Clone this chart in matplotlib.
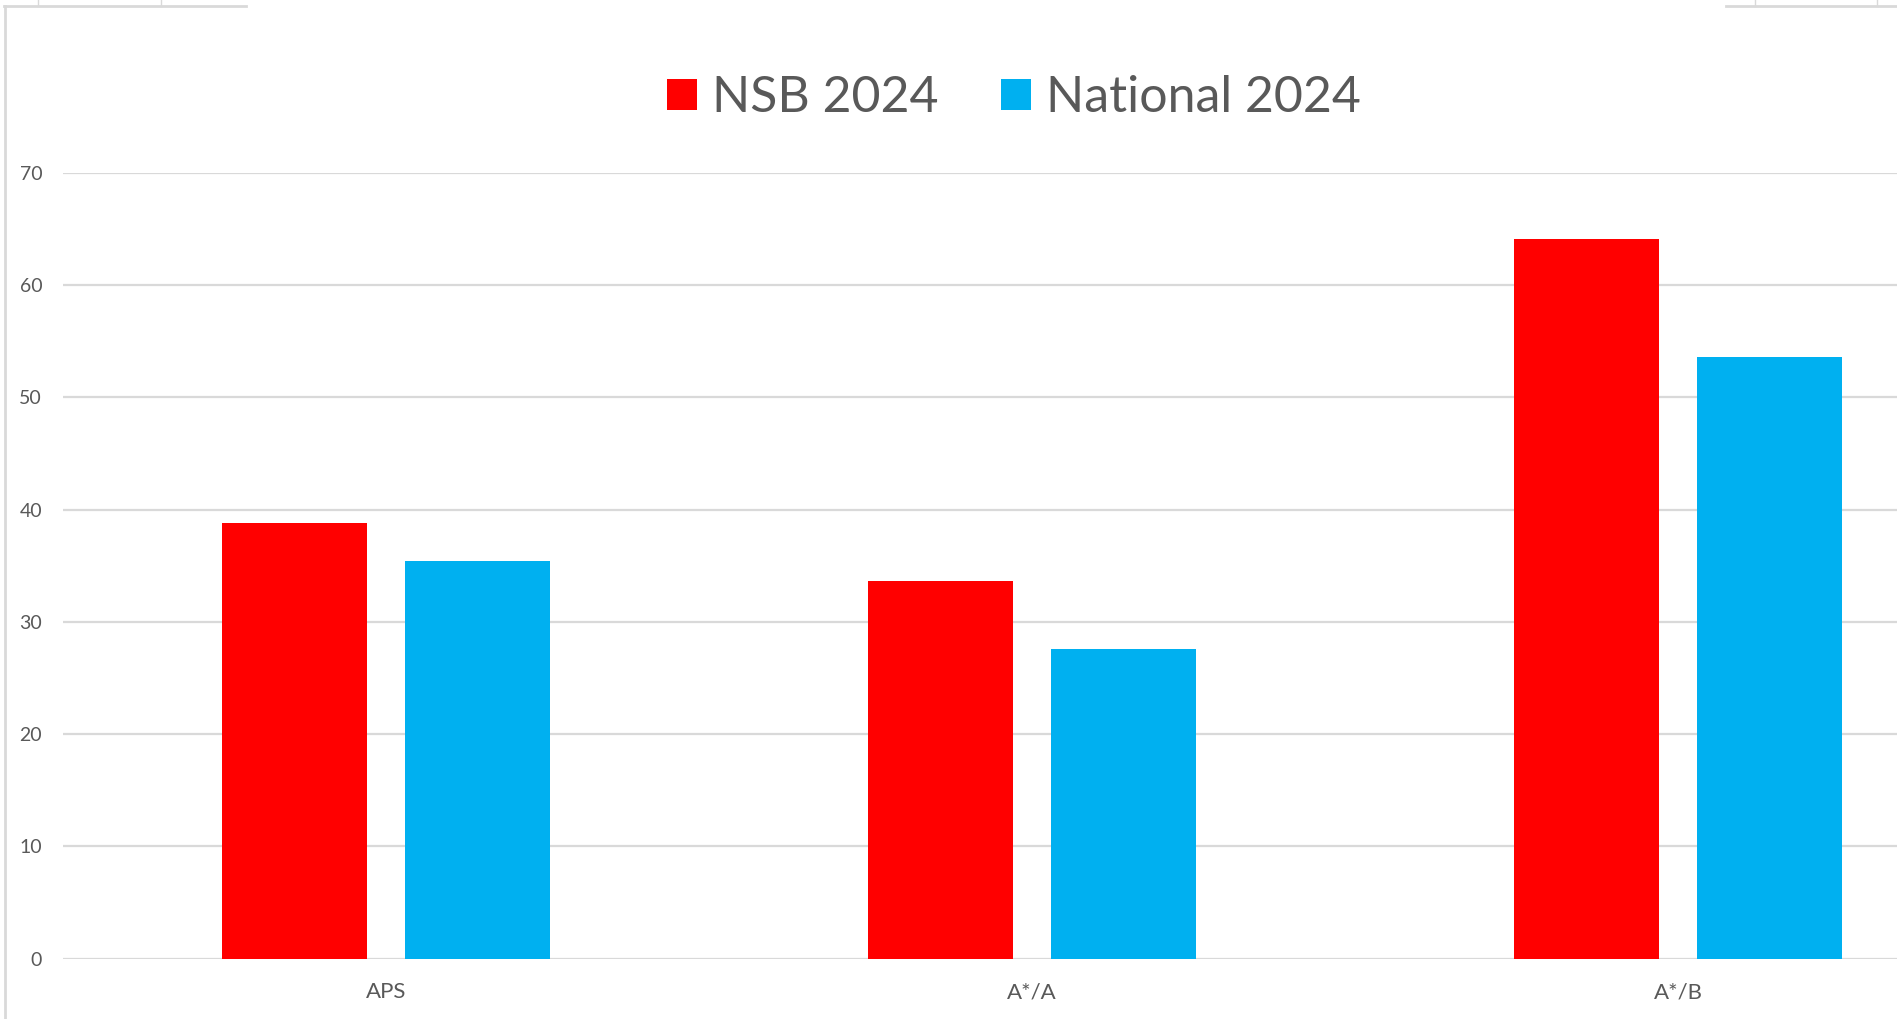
import numpy as np
import matplotlib.pyplot as plt
from matplotlib.lines import Line2D

# data
categories = ['APS', 'A*/A', 'A*/B']
nsb_2024 = [38.8, 33.6, 64.1]
national_2024 = [35.4, 27.6, 53.6]

W, H = 1897, 1019
plt.rcParams['font.family'] = ['Lato', 'DejaVu Sans']

fig = plt.figure(figsize=(W / 100, H / 100), dpi=100, facecolor='white')

# plot area runs past the right edge (cropped screenshot)
left, right = 63, 2001
bottom, top = 958.5, 173
ax = fig.add_axes([left / W, 1 - bottom / H, (right - left) / W, (bottom - top) / H])
ax.set_facecolor('none')

x = np.arange(len(categories))
bw = 0.224
off = 0.142
b1 = ax.bar(x - off, nsb_2024, bw, color='#FF0000', label='NSB 2024', zorder=3)
b2 = ax.bar(x + off, national_2024, bw, color='#00B0F0', label='National 2024', zorder=3)

ax.set_xlim(-0.5, 2.5)
ax.set_ylim(0, 70)
ax.set_yticks(np.arange(0, 71, 10))
ax.set_xticks(x)
ax.set_xticklabels(categories)
ax.grid(axis='y', color='#d9d9d9', linewidth=1.6, zorder=0)
ax.set_axisbelow(True)
for s in ax.spines.values():
    s.set_visible(False)
ax.tick_params(axis='both', length=0, colors='#595959')
ax.tick_params(axis='y', pad=15, labelsize=14)
ax.tick_params(axis='x', pad=17, labelsize=16)

fig.legend(handles=[b1, b2], loc='center', bbox_to_anchor=(1014 / W, 1 - 98 / H),
           ncol=2, frameon=False, fontsize=36, labelcolor='#595959',
           handlelength=0.6, handleheight=0.6, handletextpad=0.3,
           columnspacing=1.24)

# leftover frame lines from the screenshot
def px_line(xs, ys, lw=2):
    fig.add_artist(Line2D([v / W for v in xs], [1 - v / H for v in ys],
                          color='#d9d9d9', linewidth=lw))

px_line([4.5, 4.5], [6, H])
px_line([4, 246], [6, 6])
px_line([1726, W], [6, 6])
for tx in [38, 161, 1755, 1877]:
    px_line([tx, tx], [0, 6], lw=1)

fig.savefig('out.png', dpi=100, facecolor='white')
